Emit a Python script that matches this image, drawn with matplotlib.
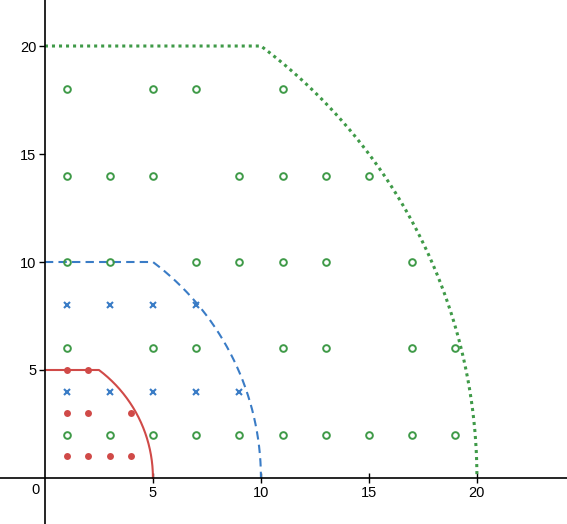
import numpy as np
import matplotlib.pyplot as plt

plt.rcParams['font.family'] = ['Liberation Sans', 'DejaVu Sans']

# punkty
red_x = [1, 2, 3, 4, 1, 2, 4, 1, 2]
red_y = [1, 1, 1, 1, 3, 3, 3, 5, 5]

blue_x = [1, 3, 5, 7, 9, 1, 3, 5, 7]
blue_y = [4, 4, 4, 4, 4, 8, 8, 8, 8]

green_x = [1, 3, 5, 7, 9, 11, 13, 15, 17, 19,
           1, 5, 7, 11, 13, 17, 19,
           1, 3, 7, 9, 11, 13, 17,
           1, 3, 5, 9, 11, 13, 15,
           1, 5, 7, 11]
green_y = [2] * 10 + [6] * 7 + [10] * 7 + [14] * 7 + [18] * 4

# granice obszarow (promien r)
radii = [5, 10, 20]
colors = ['#d04a48', '#3a7cc6', '#3f9a48']
styles = ['-', (0, (4, 2.5)), (0, (1, 1.3))]
widths = [1.5, 1.5, 2.2]

RED, BLUE, GREEN = colors

def boundary(r):
    # pozioma linia y=r od 0 do r/2, potem luk okregu o srodku (-r/4, 0)
    # i promieniu 5r/4 az do punktu (r, 0)
    R = 1.25 * r
    t0 = np.arctan2(r, 0.75 * r)
    t = np.linspace(t0, 0, 200)
    x = np.concatenate([[0], -r / 4 + R * np.cos(t)])
    y = np.concatenate([[r], R * np.sin(t)])
    return x, y

fig = plt.figure(figsize=(5.67, 5.24), dpi=100)
ax = fig.add_axes([0, 0, 1, 1])

for r, c, ls, lw in zip(radii, colors, styles, widths):
    x, y = boundary(r)
    ax.plot(x, y, color=c, linestyle=ls, lw=lw)

ax.plot(red_x, red_y, 'o', color=RED, ms=5, mec='none')
ax.plot(blue_x, blue_y, 'x', color=BLUE, ms=4.5, mew=1.5)
ax.plot(green_x, green_y, 'o', color=GREEN, ms=4.8, mfc='none', mew=1.4)

ax.set_xlim(-2.08, 24.17)
ax.set_ylim(-2.13, 22.13)

ax.spines['left'].set_position(('data', 0))
ax.spines['bottom'].set_position(('data', 0))
ax.spines['right'].set_visible(False)
ax.spines['top'].set_visible(False)
for s in ['left', 'bottom']:
    ax.spines[s].set_linewidth(1.2)
    ax.spines[s].set_color('black')

ax.set_xticks([5, 10, 15, 20])
ax.set_yticks([5, 10, 15, 20])
ax.tick_params(axis='x', direction='inout', length=7, width=1, labelsize=10.5, pad=2)
ax.tick_params(axis='y', direction='out', length=4, width=1, labelsize=10.5, pad=2)
ax.text(-0.25, -0.25, '0', ha='right', va='top', fontsize=10.5)

fig.savefig('out.png')
